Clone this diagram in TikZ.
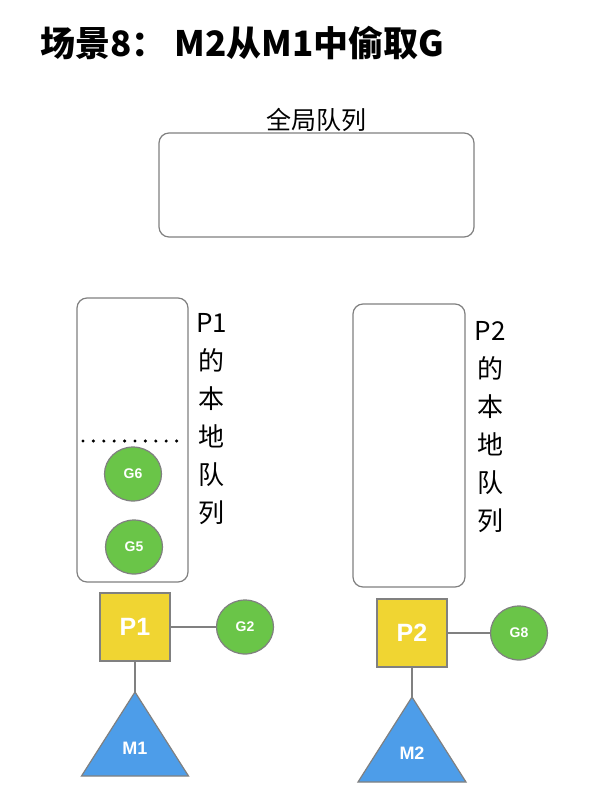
\documentclass[tikz,border=0pt]{standalone}
\usepackage{fontspec}
\setmainfont{Noto Sans CJK SC}
\newfontfamily\latinfont{Liberation Sans}
\usepackage{tikz}
\usetikzlibrary{shapes.geometric, positioning}

\definecolor{linegray}{RGB}{128,128,128}
\definecolor{pyellow}{RGB}{240,213,50}
\definecolor{ggreen}{RGB}{106,197,72}
\definecolor{mblue}{RGB}{77,157,233}

\begin{document}
\begin{tikzpicture}[x=1pt, y=-1pt]
            \tikzset{
                queue_box/.style={draw=linegray, line width=1.2pt, rounded corners=10pt, shape = rectangle},
                queue_label/.style={align=center, inner sep=0pt, anchor=north, font=\fontsize{26}{38}\selectfont},
                proc/.style={draw=linegray, fill=pyellow, line width=1.2pt, shape = rectangle, minimum width=70pt, minimum height=68pt, text=white, font=\latinfont\bfseries\fontsize{25}{25}\selectfont},
                gor/.style={draw=linegray, fill=ggreen, line width=1.2pt, shape = ellipse, minimum width=57pt, minimum height=54pt, inner sep=0pt, text=white, font=\latinfont\bfseries\fontsize{14}{14}\selectfont},
                mach/.style={draw=linegray, fill=mblue, line width=1.2pt, line join=miter},
                mach_label/.style={text=white, font=\latinfont\bfseries\fontsize{18}{18}\selectfont},
                link/.style={draw=linegray, line width=1.2pt},
                sep_dots/.style={line width=3.4pt, line cap=round, dash pattern=on 0pt off 10.4pt}
            }
            \useasboundingbox (0,0) rectangle (600,811);
            % title
            \node[anchor=base west, inner sep=0pt, font=\bfseries\fontsize{35}{35}\selectfont] (title) at (40,56) {场景8： M2从M1中偷取G};
            % global queue
            \node[queue_box, minimum width=315pt, minimum height=104pt] (global) at (316.5,185) {};
            \node[anchor=base, inner sep=0pt, font=\fontsize{25}{25}\selectfont] (global_label) at (316.5,129) {全局队列};
            % local queues
            \node[queue_box, minimum width=111pt, minimum height=284pt] (p1queue) at (132.5,440) {};
            \node[queue_box, minimum width=112pt, minimum height=283pt] (p2queue) at (409,445.5) {};
            \node[queue_label] (p1label) at (211.5,313) {P1\\的\\本\\地\\队\\列};
            \node[queue_label] (p2label) at (490,321) {P2\\的\\本\\地\\队\\列};
            \draw[sep_dots] (83,441) -- (178,441);
            % goroutines
            \node[gor] (g6) at (133,474) {G6};
            \node[gor] (g5) at (134,547) {G5};
            \node[gor] (g2) at (245,627) {G2};
            \node[gor] (g8) at (519,633) {G8};
            % processors
            \node[proc] (p1) at (135,627) {P1};
            \node[proc] (p2) at (412,633) {P2};
            % machines
            \coordinate (m1top) at (135,692);
            \coordinate (m2top) at (412,697);
            \draw[mach] (m1top) -- ++(53.5,84) -- ++(-107,0) -- cycle;
            \draw[mach] (m2top) -- ++(54,85) -- ++(-108,0) -- cycle;
            \node[mach_label] (m1) at (135,748) {M1};
            \node[mach_label] (m2) at (412,753) {M2};
            \path (p1) edge [link] (g2);
            \path (p2) edge [link] (g8);
            \path (p1) edge [link] (m1top);
            \path (p2) edge [link] (m2top);
        \end{tikzpicture}
\end{document}
